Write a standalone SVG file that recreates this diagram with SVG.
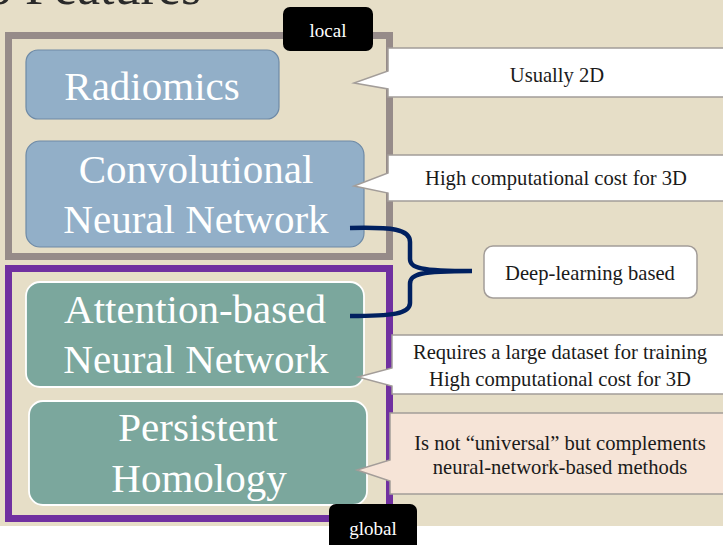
<svg xmlns="http://www.w3.org/2000/svg" width="723" height="545" viewBox="0 0 723 545">
  <defs>
    <style>
      .serif { font-family: "Liberation Serif", "Times New Roman", serif; }
      .node-text { font-family: "Liberation Serif", "Times New Roman", serif; font-size: 41px; fill: #ffffff; text-anchor: middle; }
      .note-text { font-family: "Liberation Serif", "Times New Roman", serif; font-size: 20.6px; fill: #1a1a1a; text-anchor: middle; }
      .tag-text { font-family: "Liberation Serif", "Times New Roman", serif; font-size: 19px; fill: #ffffff; text-anchor: middle; }
      .blue { fill: #92AFC8; stroke: #6E8AA6; stroke-width: 1.2; }
      .green { fill: #7BA79D; stroke: #ffffff; stroke-width: 1.8; }
      .callout { fill: #ffffff; stroke: #A39D99; stroke-width: 1.5; }
      .callout-pink { fill: #F6E4D7; stroke: #A39D99; stroke-width: 1.5; }
      .tag { fill: #000000; }
    </style>
  </defs>

  <!-- background -->
  <rect x="0" y="0" width="723" height="526" fill="#E6DEC7"/>
  <rect x="0" y="526" width="723" height="19" fill="#ffffff"/>

  <!-- cut-off title -->
  <text class="serif" x="-14" y="4" font-size="52" fill="#2A2A2A">o Features</text>

  <!-- group frames -->
  <g id="local-frame">
    <rect x="8.5" y="35.5" width="381" height="221" fill="none" stroke="#968B89" stroke-width="7"/>
  </g>
  <g id="global-frame">
    <rect x="8.5" y="268.5" width="381" height="250" fill="none" stroke="#7030A0" stroke-width="7"/>
  </g>

  <!-- nodes -->
  <g id="radiomics">
    <rect class="blue" x="26" y="50" width="253" height="69" rx="12"/>
    <text class="node-text" x="152" y="100">Radiomics</text>
  </g>
  <g id="cnn">
    <rect class="blue" x="26" y="141" width="338" height="106" rx="14"/>
    <text class="node-text" x="196" y="183">Convolutional</text>
    <text class="node-text" x="196" y="233">Neural Network</text>
  </g>
  <g id="attention">
    <rect class="green" x="26" y="282" width="338" height="105" rx="14"/>
    <text class="node-text" x="195" y="323">Attention-based</text>
    <text class="node-text" x="196" y="373">Neural Network</text>
  </g>
  <g id="persistent-homology">
    <rect class="green" x="29" y="401" width="338" height="104" rx="14"/>
    <text class="node-text" x="198" y="441">Persistent</text>
    <text class="node-text" x="199" y="492">Homology</text>
  </g>

  <!-- connectors -->
  <g id="connectors">
    <path d="M350,228 C392,227 410,229 410,242 L410,259 C410,268 420,271 472,271 C420,271 410,274 410,284 L410,303 C410,314 392,316 350,316" fill="none" stroke="#002060" stroke-width="4.5" stroke-linecap="butt"/>
  </g>

  <!-- callouts -->
  <g id="note-usually-2d">
    <path class="callout" d="M388,48 H730 V97 H388 V89 L354,83 L388,71 Z"/>
    <text class="note-text" x="557" y="82">Usually 2D</text>
  </g>
  <g id="note-cnn-cost">
    <path class="callout" d="M388,155 H730 V201 H388 V193 L354,186 L388,173 Z"/>
    <text class="note-text" x="556" y="185">High computational cost for 3D</text>
  </g>
  <g id="note-deep-learning">
    <rect class="callout" x="484" y="246" width="213" height="52" rx="9"/>
    <text class="note-text" x="590" y="280">Deep-learning based</text>
  </g>
  <g id="note-attention">
    <path class="callout" d="M392,335 H730 V394 H392 V386 L358,377 L392,368 Z"/>
    <text class="note-text" x="560" y="359">Requires a large dataset for training</text>
    <text class="note-text" x="560" y="386">High computational cost for 3D</text>
  </g>
  <g id="note-ph">
    <path class="callout-pink" d="M390,413 H730 V494 H390 V481 L357,470 L390,460 Z"/>
    <text class="note-text" x="560" y="450">Is not “universal” but complements</text>
    <text class="note-text" x="560" y="474">neural-network-based methods</text>
  </g>

  <!-- tags -->
  <g id="tag-local">
    <rect class="tag" x="283" y="7" width="90" height="44" rx="7"/>
    <text class="tag-text" x="328" y="37">local</text>
  </g>
  <g id="tag-global">
    <rect class="tag" x="329" y="504" width="88" height="50" rx="7"/>
    <text class="tag-text" x="373" y="535">global</text>
  </g>
</svg>
